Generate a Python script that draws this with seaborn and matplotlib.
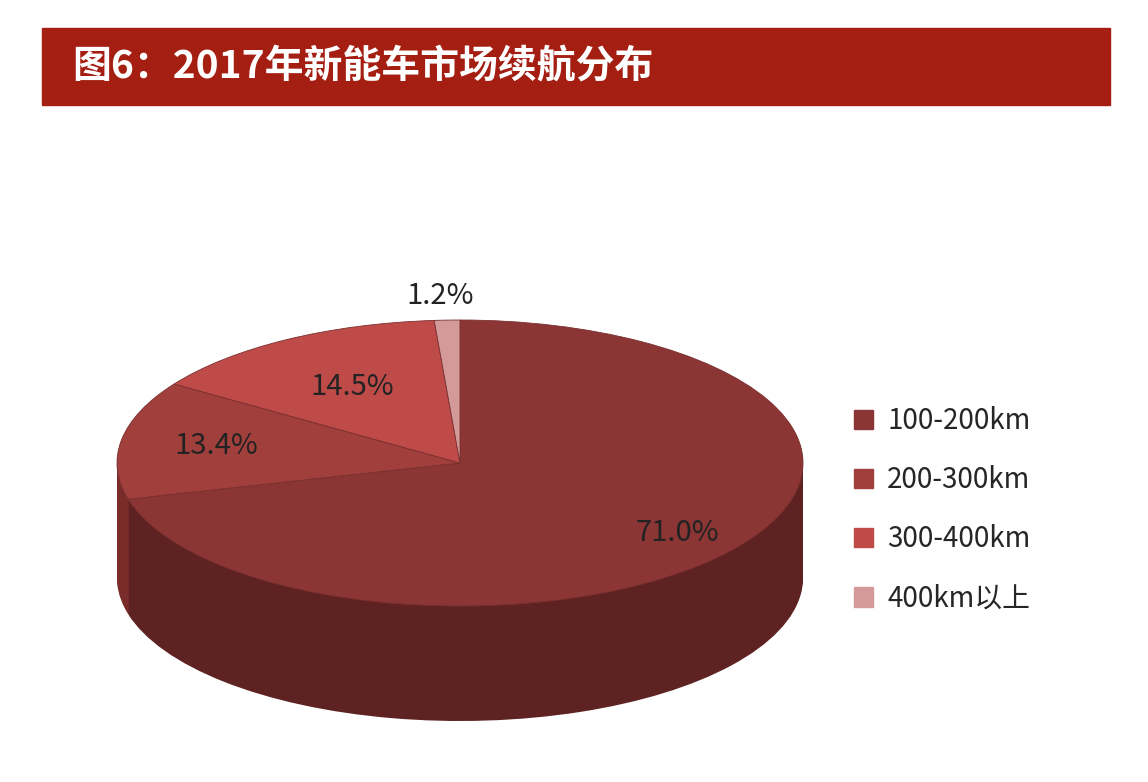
import numpy as np
import matplotlib
matplotlib.use("Agg")
import matplotlib.pyplot as plt
import matplotlib.patches as mpatches
import seaborn as sns

categories = ["100-200km", "200-300km", "300-400km", "400km以上"]
values = [71.0, 13.4, 14.5, 1.2]
labels = ["71.0%", "13.4%", "14.5%", "1.2%"]
top_colors = ["#8B3535", "#A13F3D", "#BF4B48", "#D49A9A"]
side_colors = ["#5E2222", "#7A2C2B", "#8F3735", "#A07070"]

sns.set_theme(style="white")
plt.rcParams['font.family'] = ['Noto Sans CJK SC', 'DejaVu Sans']

W, H = 1148, 782
fig = plt.figure(figsize=(W/100, H/100), dpi=100)
ax = fig.add_axes([0, 0, 1, 1])

R = 343.0
ry = 143.0
k = R / ry
cx = 460.0
cy = (H - 463.0) * k
depth = 115.0 * k

n = 60
for i in range(n, 0, -1):
    ax.pie(values, center=(cx, cy - depth * i / n), radius=R, colors=side_colors,
           startangle=90, counterclock=False, wedgeprops=dict(linewidth=0))
ax.pie(values, center=(cx, cy), radius=R, colors=top_colors,
       startangle=90, counterclock=False, wedgeprops=dict(linewidth=0.6, edgecolor="#7a3030"))

ax.set_xlim(0, W)
ax.set_ylim(0, H * k)
ax.set_aspect('auto')
ax.axis('off')

# labels
dists = [0.8, 0.72, 0.62, 1.17]
cum = 0.0
total = sum(values)
for v, lab, d in zip(values, labels, dists):
    mid = 90 - 360 * (cum + v / 2) / total
    cum += v
    a = np.deg2rad(mid)
    x = cx + d * R * np.cos(a)
    y = cy + d * R * np.sin(a)
    if lab == "1.2%":
        x, y = cx - 20, cy + 1.17 * R
    ax.text(x, y, lab, ha='center', va='center', fontsize=21, color='#222222')

# title bar
fig.patches.append(mpatches.Rectangle((42/W, 1-105/H), (1110-42)/W, (105-28)/H,
                                      transform=fig.transFigure, color="#A51E12", zorder=0))
fig.text(72/W, 1-67/H, "图6：2017年新能车市场续航分布", color='white', fontsize=28,
         fontweight='bold', va='center', ha='left')

handles = [mpatches.Patch(color=c, label=l) for c, l in zip(top_colors, categories)]
fig.legend(handles=handles, loc='center left', bbox_to_anchor=(0.722, 0.348),
           frameon=False, fontsize=20, labelspacing=1.05, handlelength=0.7,
           handleheight=0.7, handletextpad=0.5)

fig.savefig("out.png", dpi=100)
